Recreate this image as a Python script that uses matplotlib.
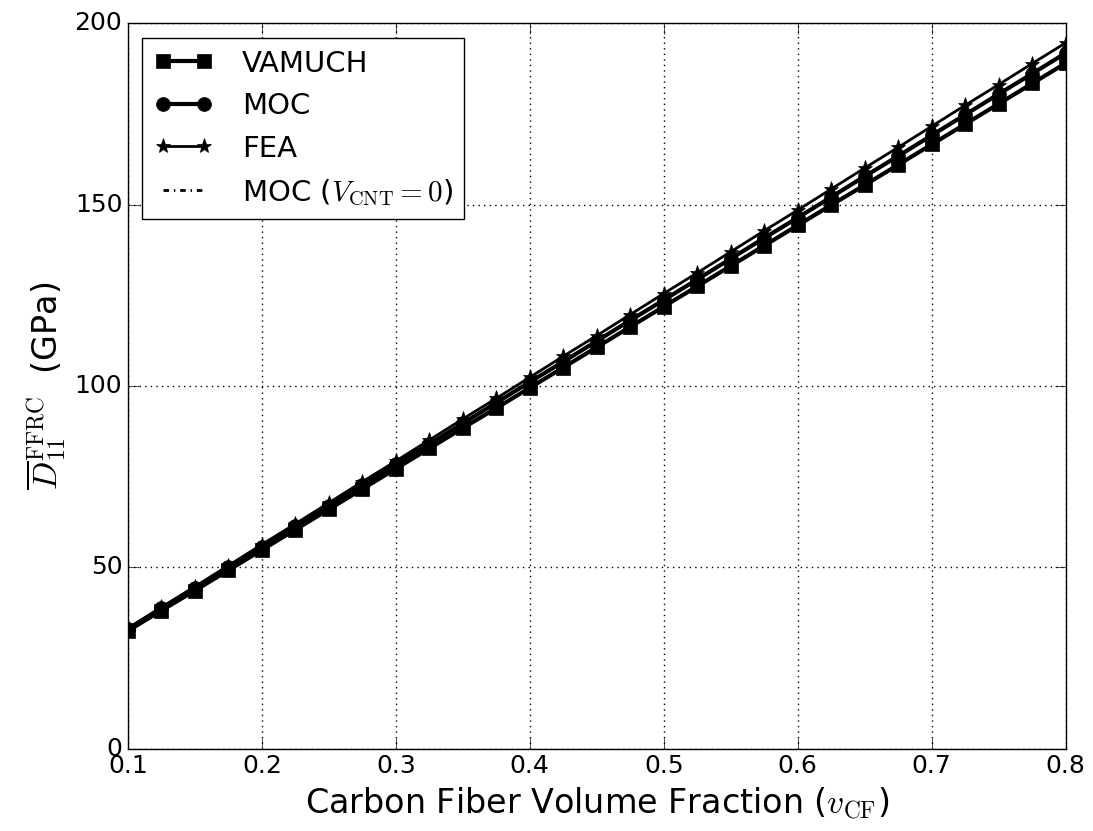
import matplotlib
matplotlib.use('Agg')
import matplotlib.pyplot as plt

# carbon fiber volume fraction
vcf = [0.1, 0.125, 0.15, 0.175, 0.2, 0.225, 0.25, 0.275, 0.3, 0.325,
       0.35, 0.375, 0.4, 0.425, 0.45, 0.475, 0.5, 0.525, 0.55, 0.575,
       0.6, 0.625, 0.65, 0.675, 0.7, 0.725, 0.75, 0.775, 0.8]

# D11 (GPa)
vamuch = [32.5, 38.1, 43.6, 49.2, 54.8, 60.4, 66.0, 71.6, 77.2, 82.8,
          88.4, 93.9, 99.5, 105.1, 110.7, 116.3, 121.9, 127.5, 133.1, 138.7,
          144.3, 149.9, 155.4, 161.0, 166.6, 172.2, 177.8, 183.4, 189.0]
moc = [33.0, 38.7, 44.3, 50.0, 55.7, 61.4, 67.0, 72.7, 78.4, 84.0,
       89.7, 95.4, 101.1, 106.7, 112.4, 118.1, 123.7, 129.4, 135.1, 140.8,
       146.4, 152.1, 157.8, 163.4, 169.1, 174.8, 180.5, 186.1, 191.8]
fea = [33.2, 39.0, 44.7, 50.5, 56.3, 62.0, 67.8, 73.6, 79.3, 85.1,
       90.9, 96.6, 102.4, 108.2, 113.9, 119.7, 125.5, 131.2, 137.0, 142.8,
       148.5, 154.3, 160.1, 165.8, 171.6, 177.4, 183.1, 188.9, 194.6]
moc_nocnt = [33.0, 38.7, 44.3, 50.0, 55.7, 61.4, 67.0, 72.7, 78.4, 84.0,
             89.7, 95.4, 101.1, 106.7, 112.4, 118.1, 123.7, 129.4, 135.1, 140.8,
             146.4, 152.1, 157.8, 163.4, 169.1, 174.8, 180.5, 186.1, 191.8]

plt.style.use('classic')
plt.rcParams['figure.facecolor'] = 'white'
plt.rcParams['savefig.facecolor'] = 'white'
plt.rcParams['mathtext.fontset'] = 'cm'
plt.rcParams['font.family'] = 'DejaVu Sans'

fig = plt.figure(figsize=(10.93, 8.31), dpi=100)
ax = fig.add_axes([0.117, 0.099, 0.858, 0.873])

ax.plot(vcf, moc_nocnt, 'k', lw=2, ls=(0, (4, 3.5, 1, 3.5)), zorder=1,
        label=r'MOC ($V_{\rm CNT}=0$)')
ax.plot(vcf, vamuch, 'k-s', lw=3, ms=10, label='VAMUCH')
ax.plot(vcf, moc, 'k-o', lw=3, ms=10, label='MOC')
ax.plot(vcf, fea, 'k-*', lw=2, ms=11, label='FEA')

ax.set_xlim(0.1, 0.8)
ax.set_ylim(0, 200)
ax.set_xticks([0.1, 0.2, 0.3, 0.4, 0.5, 0.6, 0.7, 0.8])
ax.set_yticks([0, 50, 100, 150, 200])
ax.grid(True, color='black', linestyle=':', linewidth=1)
ax.tick_params(axis='both', which='major', labelsize=18, direction='in', length=8)

ax.set_xlabel(r'Carbon Fiber Volume Fraction ($v_{\rm CF}$)', fontsize=24)
ax.set_ylabel(r'$\overline{D}_{11}^{\rm FFRC}$  (GPa)', fontsize=24)

h, l = ax.get_legend_handles_labels()
order = [1, 2, 3, 0]
ax.legend([h[i] for i in order], [l[i] for i in order], loc='upper left',
          fontsize=21, numpoints=2, fancybox=False, edgecolor='black',
          handlelength=2.0, handletextpad=1.0, borderaxespad=0.5)

fig.savefig('out.png', dpi=100)
